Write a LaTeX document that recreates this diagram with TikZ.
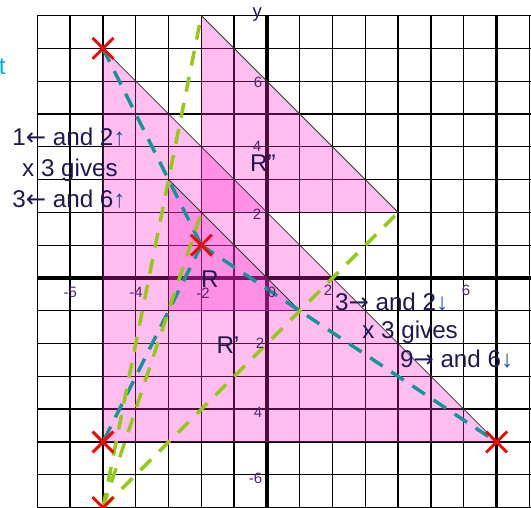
\documentclass[tikz,border=0pt]{standalone}
\usepackage{fontspec}
\setmainfont{Liberation Sans}
\newfontfamily\arrfont{DejaVu Sans}
\usetikzlibrary{shapes.misc}
\definecolor{txt}{RGB}{30,25,80}
\definecolor{arr}{RGB}{40,70,170}
\definecolor{pinkf}{RGB}{255,40,205}
\definecolor{tealc}{RGB}{20,150,150}
\definecolor{limec}{RGB}{150,200,20}
\definecolor{axlab}{RGB}{80,40,110}
\definecolor{cyanc}{RGB}{0,176,230}
\tikzset{
  gridline/.style={line width=1.2pt, black},
  axisline/.style={line width=3pt, black},
  trifill/.style={fill=pinkf, fill opacity=0.3},
  hyp/.style={draw=black!80, line width=0.7pt},
  tealdash/.style={tealc, line width=3pt, dash pattern=on 13pt off 9pt},
  limedash/.style={limec, line width=3pt, dash pattern=on 13pt off 10pt},
  redcross/.style={draw=red, cross out, line width=2.5pt, minimum size=0.55cm, inner sep=0pt},
  bigtext/.style={font=\fontsize{21}{26}\selectfont, text=txt, inner sep=0pt, anchor=base west},
  rlabel/.style={font=\fontsize{21}{26}\selectfont, text=txt, inner sep=0pt},
  numlabel/.style={font=\fontsize{13}{15}\selectfont, text=axlab, inner sep=0pt},
}
\newcommand\upar{\textcolor{arr}{↑}}
\newcommand\dnar{\textcolor{arr}{↓}}
\newcommand\lfar{{\arrfont ←}}
\newcommand\rtar{{\arrfont →}}
\begin{document}
\begin{tikzpicture}
\useasboundingbox (-8.14,-7.01) rectangle (8.05,8.476);
\fill[white] (-8.14,-7.01) rectangle (8.05,8.476);
% grid
\foreach \x in {-7,...,8} \draw[gridline] (\x,-7.3) -- (\x,8);
\foreach \y in {-7,...,8} \draw[gridline] (-7,\y) -- (8.3,\y);
\draw[axisline] (-7,0) -- (8.3,0);
\draw[axisline] (0,-7.3) -- (0,8);
\draw[axisline] (7,-7.3) -- (7,8);
% points
\coordinate (A1) at (-3,3); \coordinate (B1) at (1,-1); \coordinate (C1) at (-3,-1);
\coordinate (A2) at (-5,7); \coordinate (B2) at (7,-5); \coordinate (C2) at (-5,-5);
\coordinate (A3) at (-2,8); \coordinate (B3) at (4,2); \coordinate (C3) at (-2,2);
\coordinate (E1) at (-2,1); \coordinate (E2) at (-5,-7);
% triangles
\fill[trifill] (A2) -- (B2) -- (C2) -- cycle;
\fill[trifill] (A3) -- (B3) -- (C3) -- cycle;
\fill[trifill] (A1) -- (B1) -- (C1) -- cycle;
\draw[hyp] (A2) -- (B2);
\draw[hyp] (A3) -- (B3);
\draw[hyp] (A1) -- (B1);
% enlargement rays
\draw[tealdash] (A2) -- (E1);
\draw[tealdash] (E1) -- (B2);
\draw[tealdash] (E1) -- (C2);
\draw[limedash] (E2) -- (A3);
\draw[limedash] (E2) -- (B3);
\draw[limedash] (E2) -- (C3);
% crosses
\node[redcross] (xa) at (A2) {};
\node[redcross] (xe) at (E1) {};
\node[redcross] (xc) at (C2) {};
\node[redcross] (xb) at (B2) {};
\node[redcross] (xf) at (E2) {};
% axis numbers
\node[numlabel] (n1) at (-6.0,-0.43) {-5};
\node[numlabel] (n2) at (-3.99,-0.43) {-4};
\node[numlabel] (n3) at (-1.95,-0.46) {-2};
\node[numlabel] (n4) at (0.15,-0.43) {0};
\node[numlabel] (n5) at (1.86,-0.37) {2};
\node[numlabel] (n6) at (6.07,-0.37) {6};
\node[numlabel] (m1) at (-0.27,5.95) {6};
\node[numlabel] (m2) at (-0.3,4.0) {4};
\node[numlabel] (m3) at (-0.3,1.95) {2};
\node[numlabel] (m4) at (-0.21,-1.98) {2};
\node[numlabel] (m5) at (-0.27,-4.09) {4};
\node[numlabel] (m6) at (-0.35,-6.1) {-6};
\node[numlabel, font=\fontsize{16}{18}\selectfont, text=txt] (ylab) at (-0.3,8.03) {y};
% triangle labels
\node[rlabel] (rl1) at (-1.74,-0.03) {R};
\node[rlabel] (rl2) at (-1.19,-2.04) {R'};
\node[rlabel, anchor=west] (rl3) at (-0.52,3.5) {R''};
% explanations
\node[bigtext] (t1) at (-7.77,4.05) {1\lfar\ and 2\upar};
\node[bigtext] (t2) at (-7.47,3.08) {x 3 gives};
\node[bigtext] (t3) at (-7.77,2.16) {3\lfar\ and 6\upar};
\node[bigtext] (t4) at (2.07,-0.98) {3\rtar\ and 2\dnar};
\node[bigtext] (t5) at (2.90,-1.83) {x 3 gives};
\node[bigtext] (t6) at (4.05,-2.74) {9\rtar\ and 6\dnar};
\node[bigtext, text=cyanc, anchor=base east] (cut) at (-7.96,6.2) {t};
\end{tikzpicture}
\end{document}
